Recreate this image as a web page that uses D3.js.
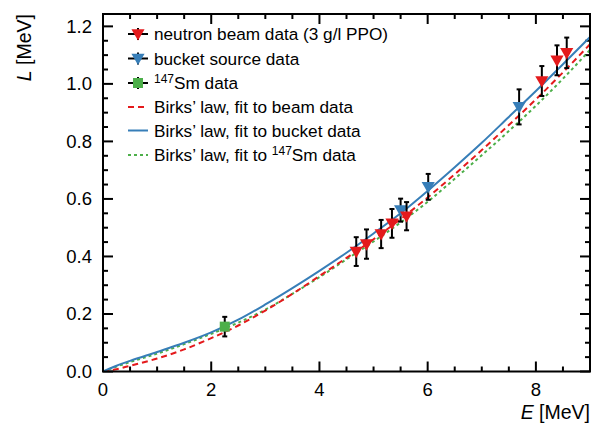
<!DOCTYPE html>
<html>
<head>
<meta charset="utf-8">
<script src="https://cdn.jsdelivr.net/npm/d3@7"></script>
<style>
  body { margin: 0; background: #fff; }
  svg { font-family: "Liberation Sans", Arial, sans-serif; }
</style>
</head>
<body>
<svg></svg>
<script>
// measured points: E [MeV], L [MeV], error
var beamE   = [4.68, 4.87, 5.14, 5.34, 5.61, 8.11, 8.39, 8.57];
var beamL   = [0.417, 0.443, 0.478, 0.515, 0.540, 1.010, 1.082, 1.108];
var beamErr = [0.050, 0.051, 0.049, 0.050, 0.049, 0.052, 0.052, 0.053];

var bucketE   = [5.50, 6.01, 7.69];
var bucketL   = [0.561, 0.642, 0.920];
var bucketErr = [0.040, 0.045, 0.061];

var smE   = [2.25];
var smL   = [0.156];
var smErr = [0.034];

// Birks' law curves
var curveE      = [0, 0.25, 0.5, 1, 1.5, 2, 2.5, 3, 3.5, 4, 4.5, 5, 5.5, 6, 6.5, 7, 7.5, 8, 8.5, 9];
var fitBeam     = [0, 0.008, 0.020, 0.045, 0.077, 0.116, 0.160, 0.212, 0.270, 0.332, 0.395, 0.460, 0.530, 0.605, 0.686, 0.770, 0.857, 0.946, 1.040, 1.138];
var fitBucket   = [0, 0.020, 0.037, 0.068, 0.100, 0.136, 0.180, 0.233, 0.290, 0.350, 0.413, 0.480, 0.550, 0.628, 0.710, 0.795, 0.885, 0.975, 1.068, 1.163];
var fitSm       = [0, 0.017, 0.033, 0.062, 0.095, 0.131, 0.170, 0.215, 0.270, 0.328, 0.390, 0.452, 0.518, 0.590, 0.670, 0.752, 0.836, 0.924, 1.018, 1.118];

var xTicks = [0, 2, 4, 6, 8];
var yTicks = [0, 0.2, 0.4, 0.6, 0.8, 1.0, 1.2];

var legendLabels = ["neutron beam data (3 g/l PPO)", "bucket source data", "Sm data",
                    "Birks\u2019 law, fit to beam data", "Birks\u2019 law, fit to bucket data", "Birks\u2019 law, fit to "];

var red = "#e41a1c", blue = "#377eb8", green = "#4daf4a";

var screen = { width: 601, height: 426 };
var margins = { top: 14, bottom: 54.5, left: 103, right: 11 };
var width = screen.width - margins.left - margins.right;
var height = screen.height - margins.top - margins.bottom;

var xScale = d3.scaleLinear().domain([0, 9]).range([0, width]);
var yScale = d3.scaleLinear().domain([0, 1.243]).range([height, 0]);

var svg = d3.select("svg")
  .attr("width", screen.width)
  .attr("height", screen.height);

var plot = svg.append("g")
  .attr("transform", "translate(" + margins.left + "," + margins.top + ")");

svg.append("defs").append("clipPath").attr("id", "clip")
  .append("rect").attr("width", width).attr("height", height);

// ticks on all four sides, pointing inwards
var xMinor = d3.range(0, 9.001, 0.5);
var yMinor = d3.range(0, 1.2001, 0.05);
function isMajor(v, step) { return Math.abs(v / step - Math.round(v / step)) < 1e-6; }

var tickG = plot.append("g").attr("stroke", "#000").attr("stroke-width", 2);
xMinor.forEach(function(v) {
  var len = isMajor(v, 2) ? 10 : 5;
  tickG.append("line").attr("x1", xScale(v)).attr("x2", xScale(v)).attr("y1", height).attr("y2", height - len);
  tickG.append("line").attr("x1", xScale(v)).attr("x2", xScale(v)).attr("y1", 0).attr("y2", len);
});
yMinor.forEach(function(v) {
  var len = isMajor(v, 0.2) ? 10 : 5;
  tickG.append("line").attr("y1", yScale(v)).attr("y2", yScale(v)).attr("x1", 0).attr("x2", len);
  tickG.append("line").attr("y1", yScale(v)).attr("y2", yScale(v)).attr("x1", width).attr("x2", width - len);
});

// tick labels
plot.selectAll(".xlab").data(xTicks).enter().append("text")
  .attr("x", function(d) { return xScale(d); })
  .attr("y", height + 24)
  .attr("text-anchor", "middle")
  .attr("font-size", 18.5)
  .text(function(d) { return d; });

plot.selectAll(".ylab").data(yTicks).enter().append("text")
  .attr("x", -11)
  .attr("y", function(d) { return yScale(d) + 6.5; })
  .attr("text-anchor", "end")
  .attr("font-size", 18.5)
  .text(function(d) { return d.toFixed(1); });

// axis titles
var xt = svg.append("text").attr("x", 590).attr("y", 419).attr("text-anchor", "end").attr("font-size", 19.5);
xt.append("tspan").attr("font-style", "italic").text("E");
xt.append("tspan").text(" [MeV]");

var yt = svg.append("text").attr("transform", "translate(31,14) rotate(-90)").attr("text-anchor", "end").attr("font-size", 19.5);
yt.append("tspan").attr("font-style", "italic").text("L");
yt.append("tspan").text(" [MeV]");

// curves
var line = d3.line()
  .x(function(d) { return xScale(d[0]); })
  .y(function(d) { return yScale(d[1]); })
  .curve(d3.curveMonotoneX);

var curves = plot.append("g").attr("clip-path", "url(#clip)");
function addCurve(vals, color, dash) {
  curves.append("path")
    .datum(curveE.map(function(e, i) { return [e, vals[i]]; }))
    .attr("d", line)
    .attr("fill", "none")
    .attr("stroke", color)
    .attr("stroke-width", 2)
    .attr("stroke-dasharray", dash);
}
addCurve(fitSm, green, "3,3");
addCurve(fitBeam, red, "6,4");
addCurve(fitBucket, blue, null);

// data points with error bars
var tri = d3.symbol().type(d3.symbolTriangle).size(75);
function addPoints(es, ls, errs, color, shape) {
  var pts = es.map(function(e, i) { return { e: e, l: ls[i], err: errs[i] }; });
  var g = plot.append("g");
  var bars = g.selectAll("g.bar").data(pts).enter().append("g").attr("stroke", "#000").attr("stroke-width", 2);
  bars.append("line")
    .attr("x1", function(d) { return xScale(d.e); }).attr("x2", function(d) { return xScale(d.e); })
    .attr("y1", function(d) { return yScale(d.l - d.err); }).attr("y2", function(d) { return yScale(d.l + d.err); });
  [-1, 1].forEach(function(s) {
    bars.append("line")
      .attr("x1", function(d) { return xScale(d.e) - 2.5; }).attr("x2", function(d) { return xScale(d.e) + 2.5; })
      .attr("y1", function(d) { return yScale(d.l + s * d.err); }).attr("y2", function(d) { return yScale(d.l + s * d.err); });
  });
  if (shape == "tri") {
    g.selectAll("path.m").data(pts).enter().append("path")
      .attr("d", tri)
      .attr("transform", function(d) { return "translate(" + xScale(d.e) + "," + (yScale(d.l) - 1) + ") rotate(180)"; })
      .attr("fill", color);
  } else {
    g.selectAll("rect.m").data(pts).enter().append("rect")
      .attr("x", function(d) { return xScale(d.e) - 5; })
      .attr("y", function(d) { return yScale(d.l) - 5; })
      .attr("width", 10).attr("height", 10)
      .attr("fill", color);
  }
}
addPoints(smE, smL, smErr, green, "sq");
addPoints(bucketE, bucketL, bucketErr, blue, "tri");
addPoints(beamE, beamL, beamErr, red, "tri");

// legend
var legend = svg.append("g").attr("transform", "translate(128,34)");
var rowY = [0, 24.5, 49, 73, 96.5, 121];
var legendKinds = [
  { kind: "tri", color: red }, { kind: "tri", color: blue }, { kind: "sq", color: green },
  { kind: "line", color: red, dash: "6,4" }, { kind: "line", color: blue, dash: null }, { kind: "line", color: green, dash: "3,3" }
];
var rows = legend.selectAll("g.row").data(legendKinds).enter().append("g")
  .attr("transform", function(d, i) { return "translate(0," + rowY[i] + ")"; });

rows.each(function(d) {
  var r = d3.select(this);
  if (d.kind == "line") {
    r.append("line").attr("x1", 0).attr("x2", 20).attr("y1", 0).attr("y2", 0)
      .attr("stroke", d.color).attr("stroke-width", 2).attr("stroke-dasharray", d.dash);
  } else {
    r.append("line").attr("x1", 0).attr("x2", 20).attr("y1", 0).attr("y2", 0).attr("stroke", "#000").attr("stroke-width", 2);
    r.append("line").attr("x1", 10).attr("x2", 10).attr("y1", -6).attr("y2", 6).attr("stroke", "#000").attr("stroke-width", 2);
    if (d.kind == "tri") {
      r.append("path").attr("d", tri).attr("transform", "translate(10,-1) rotate(180)").attr("fill", d.color);
    } else {
      r.append("rect").attr("x", 5).attr("y", -5).attr("width", 10).attr("height", 10).attr("fill", d.color);
    }
  }
});

rows.append("text")
  .attr("x", 26)
  .attr("y", 6)
  .attr("font-size", 17.2)
  .each(function(d, i) {
    var t = d3.select(this);
    if (i == 2) {
      t.append("tspan").attr("font-size", 12).attr("dy", -6).text("147");
      t.append("tspan").attr("dy", 6).text("Sm data");
    } else if (i == 5) {
      t.append("tspan").text(legendLabels[i]);
      t.append("tspan").attr("font-size", 12).attr("dy", -6).text("147");
      t.append("tspan").attr("dy", 6).text("Sm data");
    } else {
      t.text(legendLabels[i]);
    }
  });

// frame
plot.append("rect")
  .attr("width", width).attr("height", height)
  .attr("fill", "none").attr("stroke", "#000").attr("stroke-width", 2);
</script>
</body>
</html>
